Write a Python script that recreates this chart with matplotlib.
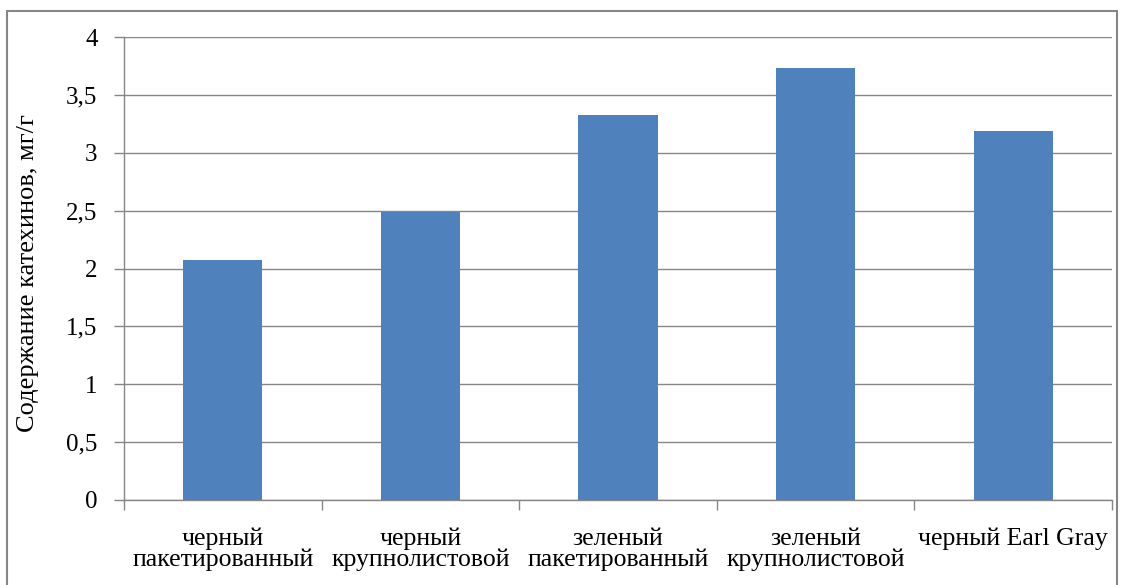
import matplotlib
matplotlib.use("Agg")
import matplotlib.pyplot as plt
from matplotlib.patches import Rectangle
from matplotlib.ticker import FuncFormatter, FixedLocator

categories = ["черный\nпакетированный", "черный\nкрупнолистовой", "зеленый\nпакетированный",
              "зеленый\nкрупнолистовой", "черный Earl Gray"]
values = [2.07, 2.49, 3.33, 3.73, 3.19]
yticks = [0, 0.5, 1, 1.5, 2, 2.5, 3, 3.5, 4]
ylabel = "Содержание катехинов, мг/г"

plt.rcParams['font.family'] = ['Liberation Serif', 'DejaVu Serif']

fig = plt.figure(figsize=(11.25, 5.85), dpi=100)
ax = fig.add_axes([124/1125, 1-500/585, (1112-124)/1125, (500-37)/585])

x = list(range(len(categories)))
ax.bar(x, values, width=0.4, color="#4F81BD", zorder=3)
ax.set_xlim(-0.5, len(categories)-0.5)
ax.set_ylim(0, 4)
ax.set_yticks(yticks)
ax.yaxis.set_major_formatter(FuncFormatter(lambda v, p: ("%g" % v).replace(".", ",")))
ax.grid(axis="y", color="#868686", linewidth=1.0, zorder=0)
ax.set_axisbelow(True)

ax.set_xticks(x)
ax.set_xticklabels(categories, fontsize=18.5, linespacing=0.9)
ax.tick_params(axis="x", length=0, pad=20)
ax.xaxis.set_minor_locator(FixedLocator([i - 0.5 for i in range(len(categories)+1)]))
ax.tick_params(axis="x", which="minor", length=7, color="#868686", width=1)
ax.tick_params(axis="y", length=7, color="#868686", width=1, labelsize=18, pad=12)

for s in ["top", "right"]:
    ax.spines[s].set_visible(False)
for s in ["left", "bottom"]:
    ax.spines[s].set_color("#868686")
    ax.spines[s].set_linewidth(1.0)

ax.set_ylabel(ylabel, fontsize=19)
ax.yaxis.set_label_coords(-0.086, 0.49)

fig.patches.append(Rectangle((7/1125, -0.05), (1117-7)/1125, 1.05 - 11/585,
                             transform=fig.transFigure, fill=False,
                             edgecolor="#868686", linewidth=1.5))

fig.savefig("out.png", dpi=100)
